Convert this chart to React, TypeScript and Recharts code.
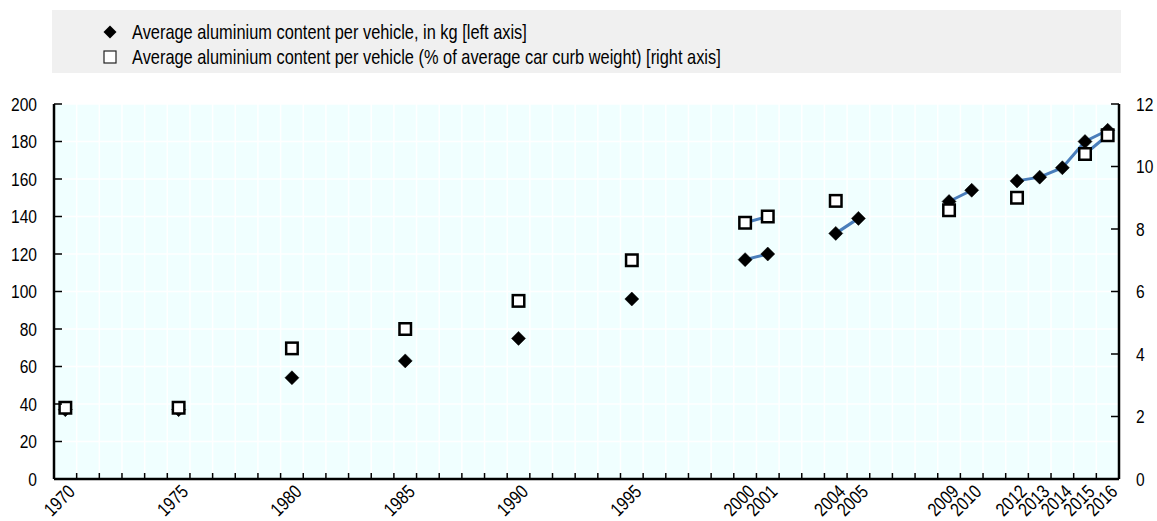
import React from 'react';
import { ComposedChart, Line, XAxis, YAxis, CartesianGrid } from 'recharts';

const years = [
  1970, 1971, 1972, 1973, 1974, 1975, 1976, 1977, 1978, 1979,
  1980, 1981, 1982, 1983, 1984, 1985, 1986, 1987, 1988, 1989,
  1990, 1991, 1992, 1993, 1994, 1995, 1996, 1997, 1998, 1999,
  2000, 2001, 2002, 2003, 2004, 2005, 2006, 2007, 2008, 2009,
  2010, 2011, 2012, 2013, 2014, 2015, 2016,
];

const kgYears = [1970, 1975, 1980, 1985, 1990, 1995, 2000, 2001, 2004, 2005, 2009, 2010, 2012, 2013, 2014, 2015, 2016];
const kgValues = [37, 37, 54, 63, 75, 96, 117, 120, 131, 139, 148, 154, 159, 161, 166, 180, 186];

const pctYears = [1970, 1975, 1980, 1985, 1990, 1995, 2000, 2001, 2004, 2009, 2012, 2015, 2016];
const pctValues = [2.28, 2.28, 4.18, 4.8, 5.7, 7.0, 8.2, 8.4, 8.9, 8.6, 9.0, 10.4, 11.0];

const labelYears = [1970, 1975, 1980, 1985, 1990, 1995, 2000, 2001, 2004, 2005, 2009, 2010, 2012, 2013, 2014, 2015, 2016];

const leftTicks = [0, 20, 40, 60, 80, 100, 120, 140, 160, 180, 200];
const rightTicks = [0, 2, 4, 6, 8, 10, 12];

const legendLabels = [
  'Average aluminium content per vehicle, in kg [left axis]',
  'Average aluminium content per vehicle (% of average car curb weight) [right axis]',
];

const data = years.map((y) => {
  const ki = kgYears.indexOf(y);
  const pi = pctYears.indexOf(y);
  return { year: y, kg: ki >= 0 ? kgValues[ki] : null, pct: pi >= 0 ? pctValues[pi] : null };
});

const xMin = years[0] - 0.5;
const xMax = years[years.length - 1] + 0.5;
const boundaries = [...years.map((y) => y - 0.5), xMax];
const xTicks = [...boundaries, ...labelYears];

const FONT = "'Liberation Sans', Arial, sans-serif";
const NARROW = 0.82;
const LINE_COLOR = '#4A7EBB';

const W = 1157;
const H = 521;

const NText = (p: any) => {
  const { x, y, anchor, size, rotate, children } = p;
  const t = `translate(${x},${y})${rotate ? ` rotate(${rotate})` : ''} scale(${NARROW},1)`;
  return (
    <text transform={t} x={0} y={0} dy="0.36em" textAnchor={anchor} fontFamily={FONT} fontSize={size} fill="#000">
      {children}
    </text>
  );
};

const XTick = (props: any) => {
  const { x, y, payload } = props;
  const v = payload.value;
  if (!Number.isInteger(v)) {
    return <line x1={x} x2={x} y1={y} y2={y - 6} stroke="#000" strokeWidth={1.5} />;
  }
  if (labelYears.indexOf(v) < 0) return <g />;
  return (
    <NText x={x + 6} y={y + 9} anchor="end" size={19} rotate={-45}>
      {v}
    </NText>
  );
};

const LeftTick = (props: any) => {
  const { x, y, payload } = props;
  return (
    <g>
      <line x1={x} x2={x + 8} y1={y} y2={y} stroke="#000" strokeWidth={1.5} />
      <NText x={x - 17} y={y} anchor="end" size={19}>
        {payload.value}
      </NText>
    </g>
  );
};

const RightTick = (props: any) => {
  const { x, y, payload } = props;
  return (
    <g>
      <line x1={x} x2={x - 8} y1={y} y2={y} stroke="#000" strokeWidth={1.5} />
      <NText x={x + 17} y={y} anchor="start" size={19}>
        {payload.value}
      </NText>
    </g>
  );
};

const Diamond = (props: any) => {
  const { cx, cy, value, index } = props;
  if (value == null || cx == null || cy == null) return <g key={`d-${index}`} />;
  const r = 7;
  return (
    <path
      key={`d-${index}`}
      d={`M${cx},${cy - r}L${cx + r},${cy}L${cx},${cy + r}L${cx - r},${cy}Z`}
      fill="#000"
      stroke="#000"
      strokeWidth={0.5}
    />
  );
};

const Square = (props: any) => {
  const { cx, cy, value, index } = props;
  if (value == null || cx == null || cy == null) return <g key={`s-${index}`} />;
  const s = 11.5;
  return (
    <rect key={`s-${index}`} x={cx - s / 2} y={cy - s / 2} width={s} height={s} fill="#fff" stroke="#000" strokeWidth={2.5} />
  );
};

const Legend = () => (
  <div
    style={{
      position: 'absolute',
      left: 52,
      top: 10,
      width: 1069,
      height: 63,
      background: '#F0F0F0',
    }}
  >
    <svg width={1069} height={63} style={{ position: 'absolute', left: 0, top: 0 }}>
      <path d="M58,15.5L64.5,22L58,28.5L51.5,22Z" fill="#000" />
      <rect x={52} y={41} width={12} height={12} fill="#fff" stroke="#222" strokeWidth={1.2} />
      <NText x={80} y={22} anchor="start" size={20}>
        {legendLabels[0]}
      </NText>
      <NText x={80} y={47} anchor="start" size={20}>
        {legendLabels[1]}
      </NText>
    </svg>
  </div>
);

export default function App() {
  return (
    <div style={{ position: 'absolute', left: 0, top: 0, width: W, height: H, background: '#fff' }}>
      <Legend />
      <div style={{ position: 'absolute', left: 0, top: 0 }}>
        <ComposedChart width={W} height={H} data={data} margin={{ top: 104, right: 0, bottom: 0, left: 0 }}>
          <CartesianGrid
            xAxisId="b"
            yAxisId="left"
            fill="#F0FFFF"
            fillOpacity={1}
            stroke="#FFFFFF"
            strokeWidth={1.5}
            verticalCoordinatesGenerator={({ offset }: any) =>
              boundaries.map((b) => offset.left + ((b - xMin) / (xMax - xMin)) * offset.width)
            }
          />
          <XAxis
            xAxisId="t"
            orientation="top"
            type="number"
            dataKey="year"
            domain={[xMin, xMax]}
            height={0}
            tick={false}
            tickLine={false}
            axisLine={{ stroke: '#000', strokeWidth: 2 }}
          />
          <XAxis
            xAxisId="b"
            type="number"
            dataKey="year"
            domain={[xMin, xMax]}
            ticks={xTicks}
            interval={0}
            height={42}
            tickSize={0}
            tickMargin={0}
            tickLine={false}
            tick={<XTick />}
            axisLine={{ stroke: '#000', strokeWidth: 2.5 }}
          />
          <YAxis
            yAxisId="left"
            orientation="left"
            width={54}
            domain={[0, 200]}
            ticks={leftTicks}
            interval={0}
            tickSize={0}
            tickMargin={0}
            tickLine={false}
            tick={<LeftTick />}
            axisLine={{ stroke: '#000', strokeWidth: 2.5 }}
          />
          <YAxis
            yAxisId="right"
            orientation="right"
            width={38}
            domain={[0, 12]}
            ticks={rightTicks}
            interval={0}
            tickSize={0}
            tickMargin={0}
            tickLine={false}
            tick={<RightTick />}
            axisLine={{ stroke: '#000', strokeWidth: 2.5 }}
          />
          <Line
            xAxisId="b"
            yAxisId="left"
            type="linear"
            dataKey="kg"
            stroke={LINE_COLOR}
            strokeWidth={3}
            dot={Diamond}
            activeDot={false}
            connectNulls={false}
            isAnimationActive={false}
          />
          <Line
            xAxisId="b"
            yAxisId="right"
            type="linear"
            dataKey="pct"
            stroke={LINE_COLOR}
            strokeWidth={3}
            dot={Square}
            activeDot={false}
            connectNulls={false}
            isAnimationActive={false}
          />
        </ComposedChart>
      </div>
    </div>
  );
}
